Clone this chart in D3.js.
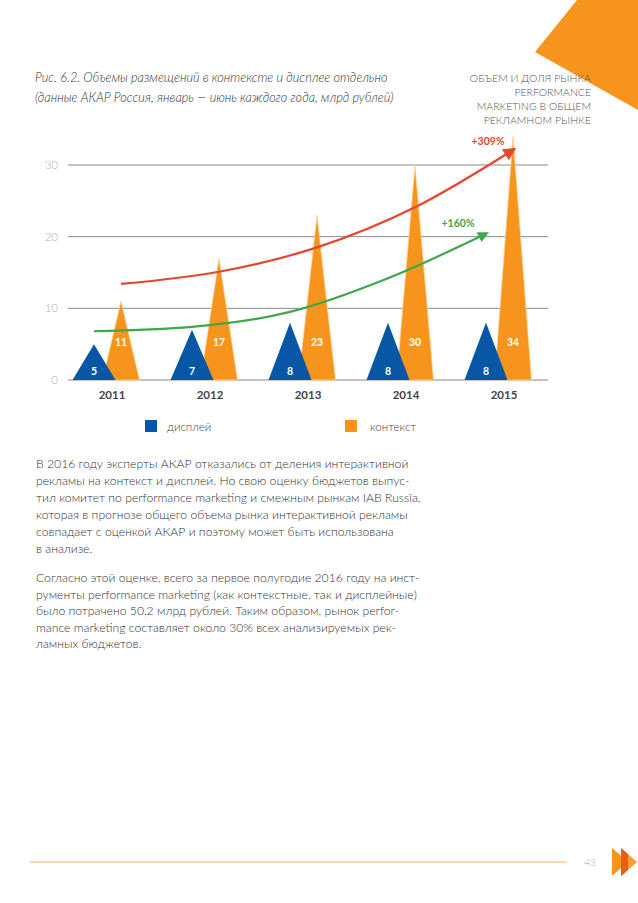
<!DOCTYPE html>
<html><head><meta charset="utf-8">
<script src="https://cdn.jsdelivr.net/npm/d3@7"></script>
<style>
html,body{margin:0;padding:0;background:#fff;}
svg{display:block;}
</style></head>
<body>
<script>
// ---- data ----
const years = ['2011','2012','2013','2014','2015'];
const display = [5, 7, 8, 8, 8];
const context = [11, 17, 23, 30, 34];
const yTicks = [0, 10, 20, 30];
const contextTrend = [13.4, 15.1, 18.5, 24.1, 32.1];   // red arrow (context)
const displayTrend = [6.8, 7.4, 9.5, 14.2, 20.4];      // green arrow (display)
const contextGrowth = '+309%';
const displayGrowth = '+160%';
const legendLabels = ['дисплей', 'контекст'];
const titleLines = ['Рис. 6.2. Объемы размещений в контексте и дисплее отдельно',
                    '(данные АКАР Россия, январь — июнь каждого года, млрд рублей)'];
const headerLines = ['ОБЪЕМ И ДОЛЯ РЫНКА','PERFORMANCE','MARKETING В ОБЩЕМ','РЕКЛАМНОМ РЫНКЕ'];
const para1 = ['В 2016 году эксперты АКАР отказались от деления интерактивной',
  'рекламы на контекст и дисплей. Но свою оценку бюджетов выпус-',
  'тил комитет по performance marketing и смежным рынкам IAB Russia,',
  'которая в прогнозе общего объема рынка интерактивной рекламы',
  'совпадает с оценкой АКАР и поэтому может быть использована',
  'в анализе.'];
const para2 = ['Согласно этой оценке, всего за первое полугодие 2016 году на инст-',
  'рументы performance marketing (как контекстные, так и дисплейные)',
  'было потрачено 50,2 млрд рублей. Таким образом, рынок perfor-',
  'mance marketing составляет около 30% всех анализируемых рек-',
  'ламных бюджетов.'];
const pageNumber = '43';

const W = 638, H = 903;
const BLUE = '#0757a6', ORANGE = '#f7941d', RED = '#e4472f', GREEN = '#3ea74b';
const FONT = 'Lato, "Open Sans", sans-serif';

const svg = d3.select('body').append('svg').attr('width', W).attr('height', H)
  .style('font-family', FONT);

// corner decoration
svg.append('path').attr('d', 'M535,52 L577,0 L638,0 L638,110 Z').attr('fill', ORANGE);

// title
svg.append('g').selectAll('text').data(titleLines).join('text')
  .attr('x', 35).attr('y', (d,i) => 81.5 + i*20)
  .attr('font-size', 12.7).attr('font-style', 'italic').attr('font-weight', 300)
  .attr('fill', '#333').text(d => d);

svg.append('g').selectAll('text').data(headerLines).join('text')
  .attr('x', 591).attr('y', (d,i) => 82 + i*14).attr('text-anchor', 'end')
  .attr('font-size', 10.5).attr('font-weight', 300).attr('fill', '#555').text(d => d);

// scales
const x = d3.scalePoint().domain(years).range([94, 486]);
const ctxOff = 27;
const y = d3.scaleLinear().domain([0, 30]).range([380, 165]);

// grid
const grid = svg.append('g');
grid.selectAll('line').data(yTicks).join('line')
  .attr('x1', 68).attr('x2', 548).attr('y1', d => y(d)).attr('y2', d => y(d))
  .attr('stroke', '#8a8a8a').attr('stroke-width', 1);
grid.selectAll('text').data(yTicks).join('text')
  .attr('x', 58).attr('y', d => y(d) + 4).attr('text-anchor', 'end')
  .attr('font-size', 11.5).attr('font-weight', 300).attr('fill', '#b0b0b0').text(d => d);

// context (orange) triangles
const ctxHalf = 18.5, dispHalf = 21.5;
const tri = (cx, half, v) => `M${cx-half},${y(0)} L${cx},${y(v)} L${cx+half},${y(0)} Z`;
svg.append('g').selectAll('path').data(context).join('path')
  .attr('d', (d,i) => tri(x(years[i]) + ctxOff, ctxHalf, d))
  .attr('fill', ORANGE).attr('stroke', '#fcd79a').attr('stroke-width', 0.8);
svg.append('g').selectAll('path').data(display).join('path')
  .attr('d', (d,i) => tri(x(years[i]), dispHalf, d))
  .attr('fill', BLUE);

// value labels
svg.append('g').selectAll('text').data(context).join('text')
  .attr('x', (d,i) => x(years[i]) + ctxOff).attr('y', 346)
  .attr('text-anchor', 'middle').attr('font-size', 10.5).attr('font-weight', 700)
  .attr('fill', '#fff').text(d => d);
svg.append('g').selectAll('text').data(display).join('text')
  .attr('x', (d,i) => x(years[i])).attr('y', 375)
  .attr('text-anchor', 'middle').attr('font-size', 10.5).attr('font-weight', 700)
  .attr('fill', '#fff').text(d => d);

// year axis labels
svg.append('g').selectAll('text').data(years).join('text')
  .attr('x', d => x(d) + 18).attr('y', 399).attr('text-anchor', 'middle')
  .attr('font-size', 11.5).attr('font-weight', 700).attr('fill', '#444').text(d => d);

// trend arrows
const defs = svg.append('defs');
function marker(id, color, size) {
  defs.append('marker').attr('id', id).attr('viewBox', '0 0 10 10')
    .attr('refX', 7).attr('refY', 5).attr('markerWidth', size).attr('markerHeight', size)
    .attr('markerUnits', 'userSpaceOnUse').attr('orient', 'auto')
    .append('path').attr('d', 'M0,0 L10,5 L0,10 Z').attr('fill', color);
}
marker('arrRed', RED, 13);
marker('arrGreen', GREEN, 11);
const line = d3.line().curve(d3.curveMonotoneX);
svg.append('path')
  .attr('d', line(contextTrend.map((v,i) => [x(years[i]) + ctxOff, y(v)])))
  .attr('fill', 'none').attr('stroke', RED).attr('stroke-width', 2.2)
  .attr('marker-end', 'url(#arrRed)');
svg.append('path')
  .attr('d', line(displayTrend.map((v,i) => [x(years[i]), y(v)])))
  .attr('fill', 'none').attr('stroke', GREEN).attr('stroke-width', 2.2)
  .attr('marker-end', 'url(#arrGreen)');
svg.append('text').attr('x', 488).attr('y', 145).attr('text-anchor', 'middle')
  .attr('font-size', 10.5).attr('font-weight', 700).attr('fill', RED).text(contextGrowth);
svg.append('text').attr('x', 458).attr('y', 227).attr('text-anchor', 'middle')
  .attr('font-size', 10.5).attr('font-weight', 700).attr('fill', GREEN).text(displayGrowth);

// legend
const legend = svg.append('g');
const legendX = [145, 345];
const legendColors = [BLUE, ORANGE];
legend.selectAll('rect').data(legendLabels).join('rect')
  .attr('x', (d,i) => legendX[i]).attr('y', 420).attr('width', 12).attr('height', 12)
  .attr('fill', (d,i) => legendColors[i]);
legend.selectAll('text').data(legendLabels).join('text')
  .attr('x', (d,i) => legendX[i] + (i ? 25 : 22)).attr('y', 431)
  .attr('font-size', 11.5).attr('font-weight', 300).attr('fill', '#444').text(d => d);

// body text
const body = svg.append('g').attr('font-size', 12.2).attr('font-weight', 300).attr('fill', '#333');
body.selectAll('text.p1').data(para1).join('text').attr('class', 'p1')
  .attr('x', 36).attr('y', (d,i) => 468 + i*17).text(d => d);
body.selectAll('text.p2').data(para2).join('text').attr('class', 'p2')
  .attr('x', 36).attr('y', (d,i) => 582 + i*16.5).text(d => d);

// footer
svg.append('line').attr('x1', 30).attr('x2', 567).attr('y1', 862).attr('y2', 862)
  .attr('stroke', '#f2b36b').attr('stroke-width', 1.2);
svg.append('text').attr('x', 590).attr('y', 866).attr('text-anchor', 'middle')
  .attr('font-size', 10).attr('font-weight', 300).attr('fill', '#aaa').text(pageNumber);
svg.append('path').attr('d', 'M612,848 L628,862 L612,876 Z').attr('fill', ORANGE);
svg.append('path').attr('d', 'M621,848 L637,862 L621,876 Z').attr('fill', '#f7931e').attr('opacity', 0.9);
svg.append('path').attr('d', 'M621,848 L628,854.1 L628,869.9 L621,876 Z').attr('fill', '#ec5b13');
</script>
</body></html>
